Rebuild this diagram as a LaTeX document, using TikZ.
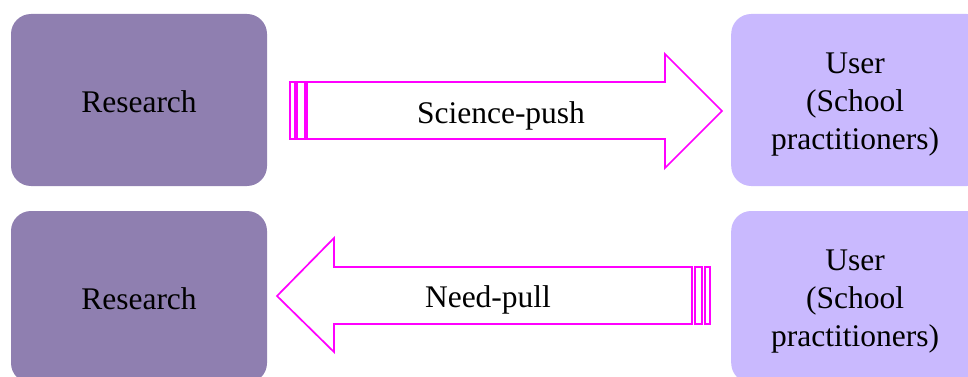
\documentclass[tikz,border=0pt]{standalone}
\usepackage{fontspec}
\setmainfont{Liberation Serif}
\definecolor{resfill}{HTML}{8F7FB0}
\definecolor{userfill}{HTML}{C9B9FE}
\definecolor{arrowline}{HTML}{FF00FF}
\begin{document}
\begin{tikzpicture}[x=1pt,y=-1pt,
  box/.style={rounded corners=20pt, minimum width=256pt, minimum height=172pt,
    inner sep=0pt, align=center},
  boxtext/.style={align=center, inner sep=0pt, font=\fontsize{31.5}{38}\selectfont},
  research/.style={box, fill=resfill},
  user/.style={box, fill=userfill},
  blockarrow/.style={draw=arrowline, line width=1.7pt, fill=white, line join=miter},
  label/.style={font=\fontsize{31.5}{38}\selectfont, inner sep=0pt}]
\useasboundingbox (0,0) rectangle (968,377);
\clip (0,0) rectangle (968,377);
% boxes
\node[research] (r1) at (139,100) {};
\node[boxtext] (r1t) at (139,102) {Research};
\node[user, anchor=west] (u1) at (731,100) {};
\node[boxtext] (u1t) at (855,105) {User\\(School\\practitioners)};
\node[research] (r2) at (139,297) {};
\node[boxtext] (r2t) at (139,299) {Research};
\node[user, anchor=west] (u2) at (731,297) {};
\node[boxtext] (u2t) at (855,302) {User\\(School\\practitioners)};
% science-push arrow
\draw[blockarrow] (290,82) rectangle (295,139);
\draw[blockarrow] (297,82) rectangle (305,139);
\draw[blockarrow] (307,82) -- (665,82) -- (665,54) -- (722,111) -- (665,168) -- (665,139) -- (307,139) -- cycle;
\node[label] (push) at (501,116) {Science-push};
% need-pull arrow
\draw[blockarrow] (695,267) rectangle (702,324);
\draw[blockarrow] (705,267) rectangle (710,324);
\draw[blockarrow] (692,267) -- (334,267) -- (334,238) -- (277,296) -- (334,352) -- (334,324) -- (692,324) -- cycle;
\node[label] (pull) at (488,300) {Need-pull};
\end{tikzpicture}
\end{document}
